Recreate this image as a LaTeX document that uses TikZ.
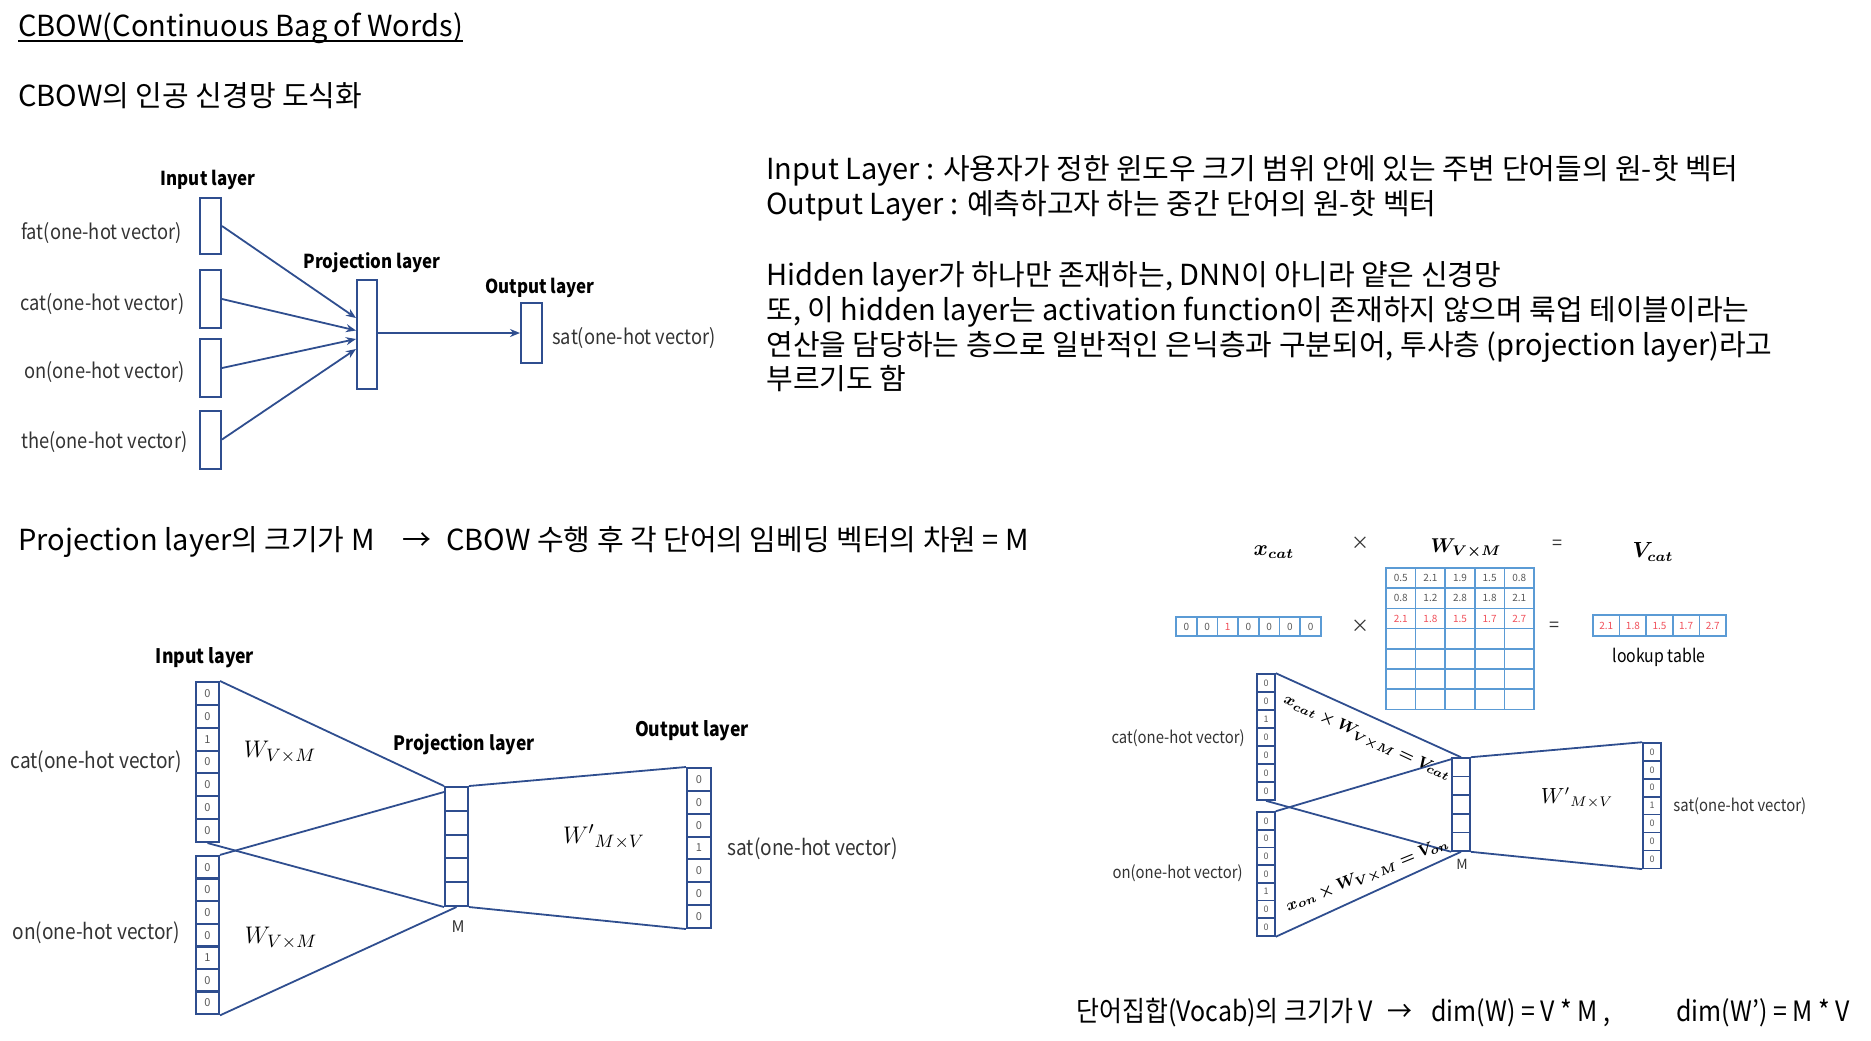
\documentclass[tikz,border=0pt]{standalone}
\usepackage{amsmath,bm}
\usepackage{fontspec}
\setmainfont{Noto Sans CJK KR}
\newfontfamily\condf{Noto Sans CJK KR}[FakeStretch=0.88]
\newfontfamily\condb{Noto Sans CJK KR}[FakeStretch=0.89]
\usetikzlibrary{calc,arrows.meta}
\definecolor{navy}{HTML}{2F4E8F}
\definecolor{lblue}{HTML}{5B9BD5}
\definecolor{redn}{HTML}{F0505A}
\definecolor{grayn}{HTML}{595959}
\definecolor{labc}{HTML}{333333}
\tikzset{
  maintext/.style={anchor=base west, inner sep=0, font=\fontsize{14.5}{16}\selectfont},
  bottext/.style={anchor=base west, inner sep=0, font=\condb\fontsize{14}{16}\selectfont},
  tlbox/.style={draw=navy, line width=1pt, minimum width=10.5pt, minimum height=29pt, inner sep=0},
  conn/.style={draw=navy, line width=0.9pt},
  arr/.style={conn, -{Stealth[length=5pt,width=4pt]}},
  lab/.style={font=\condf\fontsize{10.4}{11}\selectfont, text=labc, inner sep=0},
  blab/.style={font=\condf\bfseries\fontsize{9.6}{11}\selectfont, inner sep=0},
  bcell/.style={draw=navy, line width=1pt, minimum width=11.5pt, minimum height=11.43pt, inner sep=0, font=\fontsize{5.5}{6}\selectfont, text=grayn},
  rcell/.style={draw=navy, line width=0.8pt, minimum width=9pt, minimum height=9pt, inner sep=0, font=\fontsize{4.5}{5}\selectfont, text=grayn},
  mcell/.style={draw=lblue, line width=0.8pt, minimum width=14.8pt, minimum height=10.1pt, inner sep=0, font=\fontsize{5}{6}\selectfont, text=grayn},
  sym/.style={inner sep=0, font=\fontsize{9}{10}\selectfont, text=labc}
}
\begin{document}
\begin{tikzpicture}[x=0.5pt,y=-0.5pt]
\useasboundingbox (0,0) rectangle (1871,1040);

% ---------- headings ----------
\node[maintext] (title) at (18,36) {CBOW(Continuous Bag of Words)};
\draw[line width=0.7pt] ($(title.base west)+(0,5)$) -- ($(title.base east)+(0,5)$);
\node[maintext] (sub) at (18,106) {CBOW의 인공 신경망 도식화};

% ---------- top-right text block ----------
\node[maintext] (t1) at (766,179) {Input Layer : 사용자가 정한 윈도우 크기 범위 안에 있는 주변 단어들의 원-핫 벡터};
\node[maintext] (t2) at (766,214) {Output Layer : 예측하고자 하는 중간 단어의 원-핫 벡터};
\node[maintext] (t3) at (766,285) {Hidden layer가 하나만 존재하는, DNN이 아니라 얕은 신경망};
\node[maintext] (t4) at (766,320) {또, 이 hidden layer는 activation function이 존재하지 않으며 룩업 테이블이라는};
\node[maintext] (t5) at (766,355) {연산을 담당하는 층으로 일반적인 은닉층과 구분되어, 투사층 (projection layer)라고};
\node[maintext] (t6) at (766,389) {부르기도 함};

% ---------- middle line ----------
\node[maintext] (m1) at (18,550) {Projection layer의 크기가 M};
\node[maintext] (m2) at (402,550) {→};
\node[maintext] (m3) at (446,550) {CBOW 수행 후 각 단어의 임베딩 벡터의 차원 = M};

% ---------- bottom line ----------
\node[bottext] (b1) at (1076,1021) {단어집합(Vocab)의 크기가 V};
\node[bottext] (b2) at (1387,1021) {→};
\node[bottext] (b3) at (1431,1021) {dim(W) = V * M ,};
\node[bottext] (b4) at (1676,1021) {dim(W’) = M * V};

% ---------- top-left diagram ----------
\node[blab] (tin) at (208,180) {Input layer};
\node[tlbox, minimum height=28pt] (in1) at (210.5,226) {};
\node[tlbox] (in2) at (210.5,299) {};
\node[tlbox] (in3) at (210.5,368) {};
\node[tlbox] (in4) at (210.5,439.5) {};
\node[lab, anchor=west] (lfat) at (21,233) {fat(one-hot vector)};
\node[lab, anchor=west] (lcat) at (20,304) {cat(one-hot vector)};
\node[lab, anchor=west] (lon) at (24,372) {on(one-hot vector)};
\node[lab, anchor=west] (lthe) at (21,442) {the(one-hot vector)};
\node[tlbox, minimum width=10pt, minimum height=54.5pt] (tproj) at (367,334.5) {};
\node[blab] (tprojl) at (372,263) {Projection layer};
\node[tlbox, minimum height=30pt] (tout) at (531.5,333) {};
\node[blab] (toutl) at (540,288) {Output layer};
\node[lab, anchor=west] (lsat) at (552,338) {sat(one-hot vector)};
\draw[arr] (in1.east) -- ($(tproj.west)+(0,-16.5)$);
\draw[arr] (in2.east) -- ($(tproj.west)+(0,-4)$);
\draw[arr] (in3.east) -- ($(tproj.west)+(0,4.5)$);
\draw[arr] (in4.east) -- ($(tproj.west)+(0,14.5)$);
\draw[arr] (tproj.east |- tout.west) -- (tout.west);

% ---------- bottom-left diagram ----------
\node[blab, font=\condf\bfseries\fontsize{10}{12}\selectfont] (bin) at (205,658) {Input layer};
\foreach \v [count=\i] in {0,0,1,0,0,0,0}
  \node[bcell] (tc\i) at (207.5,{682+11.43+22.86*(\i-1)}) {\v};
\foreach \v [count=\i] in {0,0,0,0,1,0,0}
  \node[bcell] (bc\i) at (207.5,{856+11.3+22.6*(\i-1)}) {\v};
\foreach \i in {1,...,5}
  \node[bcell, minimum height=11.9pt] (pc\i) at (456.5,{787+11.9+23.8*(\i-1)}) {};
\foreach \v [count=\i] in {0,0,0,1,0,0,0}
  \node[bcell, minimum width=12pt] (oc\i) at (699,{768+11.43+22.86*(\i-1)}) {\v};
\node[blab, font=\condf\bfseries\fontsize{9.9}{12}\selectfont] (bprojl) at (464,744) {Projection layer};
\node[blab, font=\condf\bfseries\fontsize{10}{12}\selectfont] (boutl) at (692,731) {Output layer};
\node[lab, anchor=east, font=\condf\fontsize{10.85}{12}\selectfont] (bcat) at (182,762) {cat(one-hot vector)};
\node[lab, anchor=east, font=\condf\fontsize{10.85}{12}\selectfont] (bon) at (180,933) {on(one-hot vector)};
\node[lab, anchor=west, font=\condf\fontsize{10.85}{12}\selectfont] (bsat) at (727,849) {sat(one-hot vector)};
\node[inner sep=0, font=\fontsize{8}{9}\selectfont, text=labc] (bM) at (458,927) {M};
\node[inner sep=0, font=\fontsize{13}{15}\selectfont] (bw1) at (280,752) {$W_{V\times M}$};
\node[inner sep=0, font=\fontsize{13}{15}\selectfont] (bw2) at (281,938) {$W_{V\times M}$};
\node[inner sep=0, font=\fontsize{13}{15}\selectfont] (bw3) at (604,837) {${W'}_{M\times V}$};
\draw[conn] (tc1.north east) -- (pc1.north west);
\draw[conn] (tc7.south) -- (pc5.south west);
\draw[conn] (bc1.north east) -- ($(pc1.north west)+(0,6)$);
\draw[conn] (bc7.south east) -- (pc5.south);
\draw[conn] (pc1.north east) -- (oc1.north west);
\draw[conn] (pc5.south east) -- (oc7.south west);

% ---------- right: lookup illustration ----------
\node[inner sep=0, font=\fontsize{10.5}{12}\selectfont] (xcat) at (1274,552) {$\bm{x_{cat}}$};
\node[sym] (mul1) at (1360,543) {×};
\node[inner sep=0, font=\fontsize{9.8}{12}\selectfont] (wvm) at (1466,548) {$\bm{W_{V\times M}}$};
\node[sym] (eq1) at (1557,545) {=};
\node[inner sep=0, font=\fontsize{10.5}{12}\selectfont] (vcat) at (1653,552) {$\bm{V_{cat}}$};
\foreach \v/\c [count=\i] in {0/grayn,0/grayn,1/redn,0/grayn,0/grayn,0/grayn,0/grayn}
  \node[mcell, minimum width=10.35pt, minimum height=9.5pt, text=\c] (xv\i) at ({1176+20.7*(\i-0.5)},626.5) {\v};
\node[sym] (mul2) at (1360,626) {×};
\foreach \row [count=\r] in {{0.5,2.1,1.9,1.5,0.8},{0.8,1.2,2.8,1.8,2.1}}
  \foreach \v [count=\c] in \row
    \node[mcell] (m\r-\c) at ({1386+29.6*(\c-0.5)},{568+20.2*(\r-0.5)}) {\v};
\foreach \v [count=\c] in {2.1,1.8,1.5,1.7,2.7}
  \node[mcell, text=redn] (m3-\c) at ({1386+29.6*(\c-0.5)},{568+20.2*2.5}) {\v};
\foreach \r in {4,...,7}
  \foreach \c in {1,...,5}
    \node[mcell] (m\r-\c) at ({1386+29.6*(\c-0.5)},{568+20.2*(\r-0.5)}) {};
\node[sym] (eq2) at (1554,627) {=};
\foreach \v [count=\i] in {2.1,1.8,1.5,1.7,2.7}
  \node[mcell, minimum width=13.3pt, minimum height=10.5pt, text=redn] (rv\i) at ({1593+26.6*(\i-0.5)},625.5) {\v};
\node[inner sep=0, font=\condf\fontsize{9}{10}\selectfont] (look) at (1659,657) {lookup table};

% ---------- right diagram ----------
\foreach \v [count=\i] in {0,0,1,0,0,0,0}
  \node[rcell] (rc\i) at (1266,{674+9+18*(\i-1)}) {\v};
\foreach \v [count=\i] in {0,0,0,0,1,0,0}
  \node[rcell, minimum height=8.85pt] (ro\i) at (1266,{812+8.85+17.7*(\i-1)}) {\v};
\foreach \i in {1,...,5}
  \node[rcell, minimum height=9.3pt] (rp\i) at (1461,{758+9.3+18.6*(\i-1)}) {};
\foreach \v [count=\i] in {0,0,0,1,0,0,0}
  \node[rcell, minimum height=8.95pt] (ru\i) at (1652,{743+8.95+17.9*(\i-1)}) {\v};
\node[lab, anchor=east, font=\condf\fontsize{8.45}{9}\selectfont] (rcat) at (1245,738) {cat(one-hot vector)};
\node[lab, anchor=east, font=\condf\fontsize{8.45}{9}\selectfont] (ron) at (1243,873) {on(one-hot vector)};
\node[lab, anchor=west, font=\condf\fontsize{8.45}{9}\selectfont] (rsat) at (1673,806) {sat(one-hot vector)};
\node[inner sep=0, font=\fontsize{7}{8}\selectfont, text=labc] (rM) at (1462,864) {M};
\node[inner sep=0, font=\fontsize{10.5}{12}\selectfont] (rw) at (1577,798) {${W'}_{M\times V}$};
\draw[conn] (rc1.north east) -- (rp1.north);
\draw[conn] (rc7.south) -- (rp5.south west);
\draw[conn] (ro1.north east) -- ($(rp1.north west)+(0,2)$);
\draw[conn] (ro7.south east) -- (rp5.south);
\draw[conn] (rp1.north east) -- (ru1.north west);
\draw[conn] (rp5.south east) -- (ru7.south west);
\node[inner sep=0, rotate=-25, font=\fontsize{8.3}{10}\selectfont] (eqcat) at (1367,739) {$\bm{x_{cat}\times W_{V\times M}=V_{cat}}$};
\node[inner sep=0, rotate=22, font=\fontsize{8.3}{10}\selectfont] (eqon) at (1368,876) {$\bm{x_{on}\times W_{V\times M}=V_{on}}$};
\end{tikzpicture}
\end{document}
